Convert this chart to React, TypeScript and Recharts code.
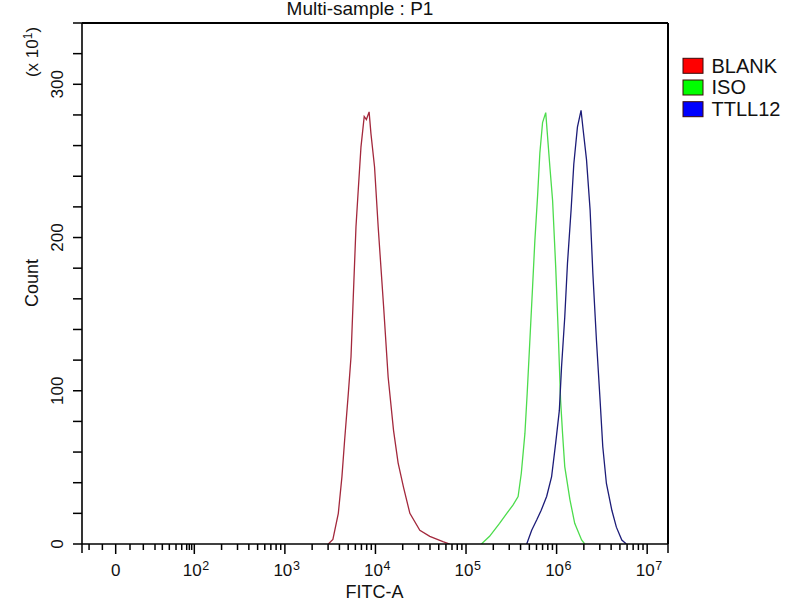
import React from 'react';
import { LineChart, Line, XAxis, YAxis, ReferenceLine, Legend } from 'recharts';

// FITC-A position in decades (log10 of intensity) and event counts (x10^1)
const blankFitcLog = [3.48, 3.53, 3.59, 3.63, 3.66, 3.70, 3.73, 3.755, 3.785, 3.81, 3.84, 3.876, 3.90, 3.93, 3.95, 3.99, 4.03, 4.09, 4.14, 4.20, 4.25, 4.31, 4.38, 4.49, 4.60, 4.745, 4.82];
const blankCount = [0, 3, 20, 44, 68, 98, 122, 161, 207, 231, 259, 279, 277, 282, 268, 246, 207, 155, 109, 74, 53, 37, 20, 9, 5, 1.5, 0];

const isoFitcLog = [5.17, 5.26, 5.37, 5.45, 5.52, 5.575, 5.61, 5.65, 5.675, 5.705, 5.735, 5.76, 5.79, 5.815, 5.845, 5.88, 5.926, 5.956, 5.99, 6.018, 6.044, 6.066, 6.09, 6.147, 6.20, 6.276, 6.31];
const isoCount = [0, 5, 13.5, 20, 25.5, 31, 46, 72, 98, 133, 168, 198, 227, 255, 275, 281.5, 246, 224, 181, 138, 94, 72, 50.5, 29, 13.5, 2.6, 0];

const ttllFitcLog = [5.67, 5.725, 5.78, 5.83, 5.89, 5.945, 5.99, 6.03, 6.055, 6.09, 6.12, 6.16, 6.19, 6.23, 6.27, 6.29, 6.33, 6.37, 6.40, 6.44, 6.48, 6.51, 6.55, 6.61, 6.66, 6.72, 6.77];
const ttllCount = [0, 9, 15.6, 22, 31, 44, 66, 87, 116, 148, 183, 218, 248, 272, 283, 272, 251, 218, 177, 133, 94, 63.5, 39.5, 22, 11, 2.6, 0];

const seriesNames = ['BLANK', 'ISO', 'TTLL12'];
const lineColors = ['#a3283c', '#4cdc4c', '#1c1c78'];
const legendFills = ['#ff0000', '#00ff00', '#0000ff'];

// axis
const xDomain: [number, number] = [0.76, 7.23];
const zeroPos = 1.132;
const majorTicks = [zeroPos, 2, 3, 4, 5, 6, 7];
const majorExponents = ['', '2', '3', '4', '5', '6', '7'];
const nearZeroMinorTicks = [0.838, 0.985, 1.29, 1.437, 1.566, 1.647, 1.724, 1.798, 1.861, 1.916, 1.945, 1.971];
const logDecades = [2, 3, 4, 5, 6];
const decadeMultipliers = [2, 3, 4, 5, 6, 7, 8, 9];
const logMinorTicks = logDecades.flatMap((d) => decadeMultipliers.map((k) => d + Math.log10(k)));
const xTicks = [xDomain[0], ...nearZeroMinorTicks, ...majorTicks, ...logMinorTicks, xDomain[1]].sort((a, b) => a - b);

const yDomain: [number, number] = [0, 340];
const yTicks = [0, 20, 40, 60, 80, 100, 120, 140, 160, 180, 200, 220, 240, 260, 280, 300, 320, 340];
const yLabelTicks = [0, 100, 200, 300];

const FONT = '"Liberation Sans", Arial, sans-serif';

const blankData = blankFitcLog.map((x, i) => ({ x, y: blankCount[i] }));
const isoData = isoFitcLog.map((x, i) => ({ x, y: isoCount[i] }));
const ttllData = ttllFitcLog.map((x, i) => ({ x, y: ttllCount[i] }));
const seriesData = [blankData, isoData, ttllData];

const near = (a: number, b: number) => Math.abs(a - b) < 1e-6;

const XTick = (props: any) => {
  const { x, y, payload } = props;
  const v = payload.value as number;
  const mi = majorTicks.findIndex((m) => near(m, v));
  const isEdge = near(v, xDomain[0]) || near(v, xDomain[1]);
  const len = mi >= 0 ? 10 : isEdge ? 9 : 6;
  return (
    <g>
      <line x1={x} y1={y} x2={x} y2={y + len} stroke="#000" strokeWidth={1.5} />
      {mi === 0 && (
        <text x={x} y={y + 32} textAnchor="middle" fontSize={17} fontFamily={FONT} fill="#111">0</text>
      )}
      {mi > 0 && (
        <g>
          <text x={x - 2} y={y + 32} textAnchor="middle" fontSize={17} fontFamily={FONT} fill="#111">10</text>
          <text x={x + 8} y={y + 26} textAnchor="start" fontSize={12.5} fontFamily={FONT} fill="#111">{majorExponents[mi]}</text>
        </g>
      )}
    </g>
  );
};

const YTick = (props: any) => {
  const { x, y, payload } = props;
  const v = payload.value as number;
  const labeled = yLabelTicks.includes(v);
  const tx = x - 19;
  return (
    <g>
      <line x1={x - 9} y1={y} x2={x} y2={y} stroke="#000" strokeWidth={1.5} />
      {labeled && (
        <text x={tx} y={y} transform={`rotate(-90, ${tx}, ${y})`} textAnchor="middle" fontSize={17} fontFamily={FONT} fill="#111">
          {v}
        </text>
      )}
    </g>
  );
};

const XLabel = () => (
  <g>
    <text x={374.5} y={598} textAnchor="middle" fontSize={18} fontFamily={FONT} fill="#111">FITC-A</text>
    <text x={360} y={15} textAnchor="middle" fontSize={19} fontFamily={FONT} fill="#111">Multi-sample : P1</text>
  </g>
);

const YLabel = () => (
  <g>
    <text x={38} y={283} transform="rotate(-90, 38, 283)" textAnchor="middle" fontSize={18} fontFamily={FONT} fill="#111">Count</text>
    <text x={38} y={52} transform="rotate(-90, 38, 52)" textAnchor="middle" fontSize={17} fontFamily={FONT} fill="#111">
      <tspan>(x 10</tspan>
      <tspan dy={-6} fontSize={12}>1</tspan>
      <tspan dy={6}>)</tspan>
    </text>
  </g>
);

const LegendBox = () => (
  <svg width={120} height={70}>
    {seriesNames.map((name, i) => (
      <g key={name}>
        <rect x={3} y={4.3 + i * 21.7} width={20} height={15} fill={legendFills[i]} stroke="#3a0a0a" strokeWidth={1} />
        <text x={31.5} y={18.7 + i * 21.7} fontSize={20} fontFamily={FONT} fill="#111">{name}</text>
      </g>
    ))}
  </svg>
);

export default function App() {
  return (
    <div style={{ position: 'absolute', left: 0, top: 0, width: 800, height: 600, background: '#fff' }}>
      <LineChart width={800} height={600} margin={{ top: 23, right: 132, left: 22, bottom: 0 }}>
        <XAxis
          type="number"
          dataKey="x"
          domain={xDomain}
          ticks={xTicks}
          interval={0}
          allowDataOverflow
          tickSize={0}
          tickMargin={0}
          tickLine={false}
          tick={XTick}
          height={56}
          axisLine={{ stroke: '#000', strokeWidth: 1.6 }}
          label={{ content: XLabel }}
        />
        <YAxis
          type="number"
          dataKey="y"
          domain={yDomain}
          ticks={yTicks}
          interval={0}
          allowDataOverflow
          tickSize={0}
          tickMargin={0}
          tickLine={false}
          tick={YTick}
          width={60}
          axisLine={{ stroke: '#000', strokeWidth: 1.6 }}
          label={{ content: YLabel }}
        />
        <ReferenceLine y={yDomain[1]} stroke="#000" strokeWidth={2} />
        <ReferenceLine x={xDomain[1]} stroke="#000" strokeWidth={2} />
        {seriesData.map((d, i) => (
          <Line
            key={seriesNames[i]}
            data={d}
            dataKey="y"
            name={seriesNames[i]}
            type="linear"
            stroke={lineColors[i]}
            strokeWidth={1.3}
            dot={false}
            activeDot={false}
            isAnimationActive={false}
          />
        ))}
        <Legend
          layout="vertical"
          align="center"
          verticalAlign="middle"
          wrapperStyle={{ position: 'absolute', left: 680, top: 54, width: 120, height: 70 }}
          content={LegendBox}
        />
      </LineChart>
    </div>
  );
}
